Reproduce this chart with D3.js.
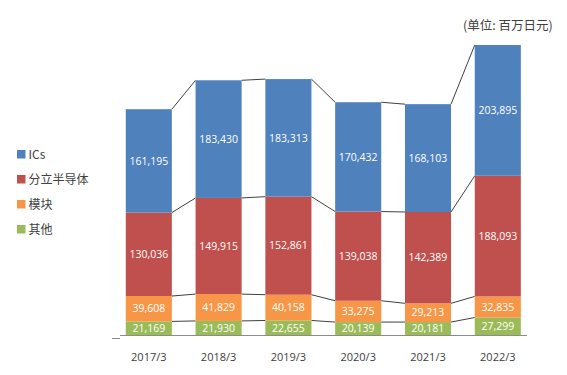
<!DOCTYPE html>
<html><head><meta charset="utf-8">
<script src="https://cdn.jsdelivr.net/npm/d3@7"></script>
<style>body{margin:0;background:#fff}svg{display:block}</style>
</head><body>
<svg id="c" width="567" height="375"></svg>
<script>
const years = ["2017/3","2018/3","2019/3","2020/3","2021/3","2022/3"];
const seriesNames = ["其他","模块","分立半导体","ICs"];
const others = [21169,21930,22655,20139,20181,27299];
const modules = [39608,41829,40158,33275,29213,32835];
const discretes = [130036,149915,152861,139038,142389,188093];
const ics = [161195,183430,183313,170432,168103,203895];
const colors = {"ICs":"#4F81BD","分立半导体":"#C0504D","模块":"#F79646","其他":"#9BBB59"};
const unitLabel = "(单位: 百万日元)";

const rows = years.map((y,i)=>({year:y,"其他":others[i],"模块":modules[i],"分立半导体":discretes[i],"ICs":ics[i]}));
const stack = d3.stack().keys(seriesNames)(rows);

const svg = d3.select("#c");
const x = d3.scaleBand().domain(years).range([114.6,532]).paddingInner(0.34).paddingOuter(0.16);
const y = d3.scaleLinear().domain([0,452122]).range([335,45]);
const fontLat = "'Open Sans','DejaVu Sans',sans-serif";

// connector lines
stack.forEach(s=>{
  for(let i=0;i<years.length-1;i++){
    svg.append("line")
      .attr("x1",x(years[i])+x.bandwidth()).attr("y1",y(s[i][1]))
      .attr("x2",x(years[i+1])).attr("y2",y(s[i+1][1]))
      .attr("stroke","#404040").attr("stroke-width",1);
  }
});

// bars
const g = svg.selectAll("g.s").data(stack).join("g").attr("fill",d=>colors[d.key]);
g.selectAll("rect").data(d=>d).join("rect")
  .attr("x",d=>x(d.data.year)).attr("width",x.bandwidth())
  .attr("y",d=>y(d[1])).attr("height",d=>y(d[0])-y(d[1]));

// labels
stack.forEach(s=>{
  s.forEach(d=>{
    svg.append("text")
      .attr("x",x(d.data.year)+x.bandwidth()/2)
      .attr("y",(y(d[0])+y(d[1]))/2)
      .attr("dy","0.36em")
      .attr("text-anchor","middle")
      .attr("fill","#fff")
      .attr("font-family",fontLat)
      .attr("font-size",10.5)
      .text(d3.format(",")(d.data[s.key]));
  });
});

// axis
svg.append("line").attr("x1",120).attr("x2",527).attr("y1",335.5).attr("y2",335.5).attr("stroke","#8c8c8c");
svg.append("line").attr("x1",112).attr("x2",120).attr("y1",338.5).attr("y2",338.5).attr("stroke","#8c8c8c");
svg.selectAll("text.xl").data(years).join("text")
  .attr("x",d=>x(d)+x.bandwidth()/2).attr("y",361)
  .attr("text-anchor","middle").attr("fill","#404040")
  .attr("font-family",fontLat).attr("font-size",11).text(d=>d);

// legend
const legendOrder = ["ICs","分立半导体","模块","其他"];
legendOrder.forEach((k,i)=>{
  const ly = 154 + i*25;
  svg.append("rect").attr("x",17).attr("y",ly-4).attr("width",8.5).attr("height",8.5).attr("fill",colors[k]);
  svg.append("text").attr("x",28.5).attr("y",ly).attr("dy","0.38em")
    .attr("font-family","'Noto Sans CJK SC','Open Sans',sans-serif").attr("font-size",12)
    .attr("fill","#404040").text(k);
});

svg.append("text").attr("x",463).attr("y",25).attr("dy","0.36em")
  .attr("font-family","'Noto Sans CJK SC',sans-serif").attr("font-size",12.5)
  .attr("fill","#404040").text(unitLabel);
</script>
</body></html>
